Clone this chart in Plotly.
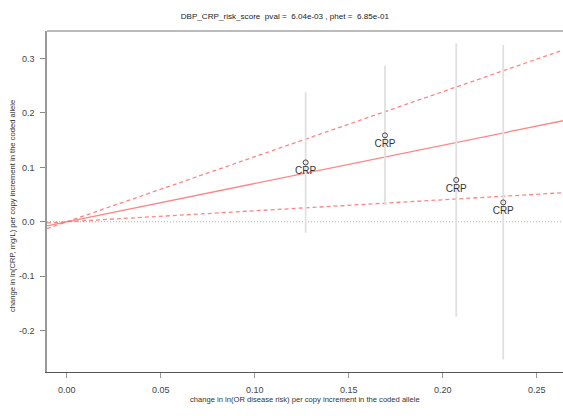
import plotly.graph_objects as go

# Per-study estimates
labels = ["CRP", "CRP", "CRP", "CRP"]
beta_disease = [0.1271, 0.1693, 0.2072, 0.2322]
beta_crp = [0.109, 0.1588, 0.0767, 0.0356]
ci_upper = [0.2379, 0.2868, 0.3279, 0.3248]
ci_lower = [-0.0202, 0.0307, -0.1746, -0.2529]

# Fitted slope through the origin with its confidence bounds
fit_slope = 0.703
fit_slope_hi = 1.195
fit_slope_lo = 0.202

x_range = [-0.0105, 0.264]
y_range = [-0.276, 0.3505]
x_ticks = [0.00, 0.05, 0.10, 0.15, 0.20, 0.25]
y_ticks = [-0.2, -0.1, 0.0, 0.1, 0.2, 0.3]

font_family = "Liberation Sans, Arial, sans-serif"
line_col = "rgba(255,110,110,0.85)"

fig = go.Figure()

# zero reference line
fig.add_trace(go.Scatter(
    x=x_range, y=[0, 0], mode="lines",
    line=dict(color="#b0b0b0", width=1, dash="1px,2px"),
    hoverinfo="skip", showlegend=False))

# regression line and bounds
for s, dash in [(fit_slope, "solid"), (fit_slope_hi, "4px,3px"), (fit_slope_lo, "4px,3px")]:
    fig.add_trace(go.Scatter(
        x=x_range, y=[s * v for v in x_range], mode="lines",
        line=dict(color=line_col, width=1.3, dash=dash),
        hoverinfo="skip", showlegend=False))

# points with vertical confidence intervals
fig.add_trace(go.Scatter(
    x=beta_disease, y=beta_crp, mode="markers+text",
    text=labels, textposition="bottom center",
    textfont=dict(family=font_family, size=10, color="#333333"),
    marker=dict(symbol="circle-open", size=5, color="#444444", line=dict(width=1)),
    error_y=dict(type="data", symmetric=False,
                 array=[u - b for u, b in zip(ci_upper, beta_crp)],
                 arrayminus=[b - l for b, l in zip(beta_crp, ci_lower)],
                 color="#e0e0e0", thickness=1.8, width=0),
    showlegend=False))

fig.update_layout(
    width=563, height=416,
    margin=dict(l=47, r=0, t=31, b=44),
    paper_bgcolor="white", plot_bgcolor="white",
    font=dict(family=font_family, color="#333333"),
    title=dict(text="DBP_CRP_risk_score  pval =  6.04e-03 , phet =  6.85e-01",
               x=0.506, xanchor="center", y=0.962, yanchor="middle",
               font=dict(size=8.1, color="#222222")),
    xaxis=dict(range=x_range, tickvals=x_ticks, ticktext=[f"{v:.2f}" for v in x_ticks],
               showgrid=False, zeroline=False, showline=True, linecolor="#555555", linewidth=1,
               ticks="outside", ticklen=5, tickcolor="#999999", ticklabelstandoff=4,
               tickfont=dict(size=9, color="#444444")),
    yaxis=dict(range=y_range, tickvals=y_ticks, ticktext=[f"{v:.1f}" for v in y_ticks],
               showgrid=False, zeroline=False, showline=True, linecolor="#999999", linewidth=1.5,
               ticks="outside", ticklen=5, tickcolor="#888888", ticklabelstandoff=4,
               tickfont=dict(size=9, color="#444444")),
    shapes=[dict(type="line", xref="paper", yref="paper", x0=0, x1=1, y0=1, y1=1,
                 line=dict(color="#bbbbbb", width=2))],
    annotations=[
        dict(text="change in ln(OR disease risk) per copy increment in the coded allele",
             xref="paper", yref="paper", x=0.5, y=-0.082, xanchor="center", yanchor="middle",
             showarrow=False, font=dict(size=7.6, color="#333333")),
        dict(text="change in ln(CRP, mg/L) per copy increment in the coded allele",
             xref="paper", yref="paper", x=-0.0665, y=0.486, xanchor="center", yanchor="middle",
             textangle=-90, showarrow=False, font=dict(size=7.6, color="#333333")),
    ],
)

fig.write_html("out.html")
